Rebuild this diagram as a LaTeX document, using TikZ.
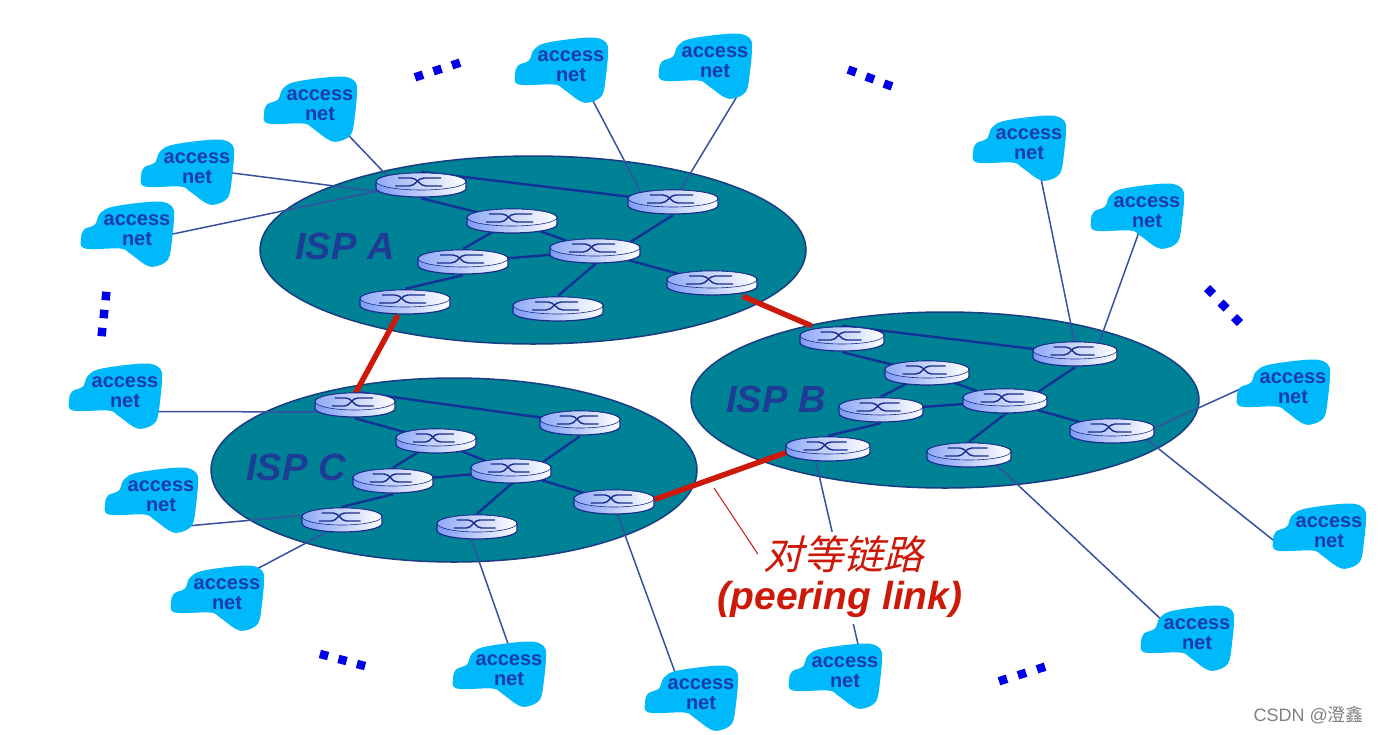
\documentclass[tikz,border=0pt]{standalone}
\usepackage{fontspec}
\setmainfont{Liberation Sans}
\newfontfamily\cjkfont{Noto Sans CJK SC}
\newfontfamily\cjkslant[FakeSlant=0.25]{Noto Sans CJK SC}
\usetikzlibrary{shapes.geometric,calc}

\definecolor{ispteal}{RGB}{0,130,150}
\definecolor{ispedge}{RGB}{25,60,130}
\definecolor{ispink}{RGB}{30,60,150}
\definecolor{cloudblue}{RGB}{0,185,250}
\definecolor{cloudink}{RGB}{25,60,170}
\definecolor{routerblue}{RGB}{125,155,245}
\definecolor{routeredge}{RGB}{25,45,140}
\definecolor{corelinkblue}{RGB}{20,50,150}
\definecolor{acclinkblue}{RGB}{55,80,160}
\definecolor{peerred}{RGB}{205,25,10}
\definecolor{dotblue}{RGB}{0,0,230}

\pgfdeclarelayer{ispfill}
\pgfdeclarelayer{links}
\pgfsetlayers{ispfill,links,main}

% access network: blob with its label
\newcommand{\accessnet}[2]{%
    \fill[cloudblue,shift={(#2)},yshift=-1.5pt] plot[smooth cycle,tension=0.6] coordinates {
        (-56,8) (-53,-1) (-42,-6) (-37,-17) (-23,-24) (20,-29) (35,-24) (37,-14)
        (35,9) (31,29) (18,36) (8,34) (-7,23) (-17,18) (-52,18)};
    \node[nettext,yshift=-1.5pt] (#1) at (#2) {access\\net};
}

\begin{document}
\begin{tikzpicture}[
        x=1pt,
        y=-1pt,
        isp/.style={
            ellipse,
            draw=ispedge,
            fill=ispteal,
            line width=1.5pt,
            inner sep=0pt
        },
        isplabel/.style={
            font=\fontsize{38}{38}\selectfont\bfseries\itshape,
            text=ispink,
            inner sep=0pt
        },
        nettext/.style={
            font=\fontsize{20}{20}\selectfont\bfseries,
            text=cloudink,
            align=center,
            inner sep=0pt
        },
        router/.style={
            rectangle,
            minimum width=#1+3,
            minimum height=26,
            inner sep=0pt,
            path picture={
                \begin{scope}[x=#1/90*1pt]
                    \shade[left color=routerblue,right color=white,draw=routeredge,line width=1.2pt]
                        (-45,3.5) .. controls (-45,8.2) and (-24.8,12) .. (0,12)
                        .. controls (24.8,12) and (45,8.2) .. (45,3.5)
                        -- (45,-3.5) .. controls (45,-8.2) and (24.8,-12) .. (0,-12)
                        .. controls (-24.8,-12) and (-45,-8.2) .. (-45,-3.5) -- cycle;
                    \shade[left color=routerblue!85!white,right color=white]
                        (0,-3.5) ellipse [x radius=44,y radius=8.5];
                    \draw[routeredge,line width=0.6pt] (0,-3.5) ellipse [x radius=45,y radius=8.5];
                    \draw[routeredge,line width=1.4pt]
                        (-23,-7) -- (-10,-7) .. controls (-3,-7) and (-2,1) .. (5,1) -- (21,1);
                    \draw[routeredge,line width=1.4pt]
                        (-26,1) -- (-12,1) .. controls (-5,1) and (-4,-7) .. (3,-7) -- (20,-7);
                \end{scope}
            }
        },
        corelink/.style={draw=corelinkblue,line width=2.4pt},
        acclink/.style={draw=acclinkblue,line width=1.5pt},
        peerlink/.style={draw=peerred,line width=5.5pt},
        peertext/.style={text=peerred,fill=white,inner sep=0pt},
        dotsq/.style={fill=dotblue,minimum size=8.5,inner sep=0pt}
    ]
    \useasboundingbox (0,0) rectangle (1379,734);

    % Providers
    \begin{pgfonlayer}{ispfill}
        \node[isp,minimum width=546,minimum height=188] (ispA) at (533,250) {};
        \node[isp,minimum width=508,minimum height=176] (ispB) at (945,400) {};
        \node[isp,minimum width=486,minimum height=184] (ispC) at (454,470) {};
    \end{pgfonlayer}
    \node[isplabel] (labA) at (345,246) {ISP A};
    \node[isplabel] (labB) at (776,399) {ISP B};
    \node[isplabel] (labC) at (296,467) {ISP C};

    % Routers
    \foreach \name/\xpos/\ypos in {a1/421/185,a2/512/221,a3/673/202,a4/595/251,
            a5/463/262,a6/712/283,a7/405/302,a8/558/309}
        \node[router=90] (\name) at (\xpos,\ypos) {};
    \foreach \name/\xpos/\ypos in {b1/842/339,b2/927/373,b3/1075/354,b4/1005/401,
            b5/881/410,b6/1112/431,b7/828/449,b8/969/455}
        \node[router=84] (\name) at (\xpos,\ypos) {};
    \foreach \name/\xpos/\ypos in {c1/355/405,c2/436/441,c3/580/423,c4/511/471,
            c5/393/481,c6/614/502,c7/342/520,c8/477/527}
        \node[router=80] (\name) at (\xpos,\ypos) {};

    % Access networks
    \accessnet{n1}{320,104}
    \accessnet{n2}{197,167}
    \accessnet{n3}{137,229}
    \accessnet{n4}{571,65}
    \accessnet{n5}{715,61}
    \accessnet{n6}{1029,143}
    \accessnet{n7}{1147,211}
    \accessnet{n8}{1293,387}
    \accessnet{n9}{1329,531}
    \accessnet{n10}{1197,633}
    \accessnet{n11}{845,671}
    \accessnet{n12}{701,693}
    \accessnet{n13}{509,669}
    \accessnet{n14}{227,593}
    \accessnet{n15}{161,495}
    \accessnet{n16}{125,391}

    % Peering label
    \node[peertext,minimum width=170,minimum height=44] (peerzh) at (843,554)
        {\fontsize{40}{40}\cjkslant 对等链路};
    \node[peertext,minimum height=50] (peeren) at (840,599)
        {\fontsize{39}{39}\selectfont\bfseries\itshape (peering link)};
    \coordinate (peertip) at (714,488);

    % Links, under the routers and blobs
    \begin{pgfonlayer}{links}
        \foreach \p in {a,b,c} {
            \draw[corelink] (\p1.north) -- (\p3.center);
            \draw[corelink] (\p1.south) -- (\p2.center);
            \draw[corelink] (\p2.center) -- (\p5.north);
            \draw[corelink] (\p2.center) -- (\p4.center);
            \draw[corelink] (\p3.south) -- (\p4.south);
            \draw[corelink] (\p4.center) -- (\p5.center);
            \draw[corelink] (\p4.center) -- (\p6.center);
            \draw[corelink] (\p4.south) -- (\p8.north);
            \draw[corelink] (\p5.south) -- (\p7.north);
        }
        \foreach \src/\sx/\sy/\dst/\tx/\ty in {n1/0/0/a1/-25/0,n2/0/0/a1/0/12,n3/0/11/a1/0/-3,
                n4/4/0/a3/-27/0,n5/31/19/a3/0/0,
                n6/5/0/b3/2/0,n7/-1/0/b3/20/0,n8/-23/-13/b6/18/8,n9/-44/17/b6/18/-5,
                n10/-7/12/b8/16/-1,n11/17/-11/b7/-15/0,
                n12/-19/-3/c6/-1/0,n13/7/-4/c8/-10/0,n14/8/-14/c7/0/4,
                n15/9/31/c7/0/-8,n16/10/19/c1/0/7}
            \draw[acclink] ($(\src)+(\sx,\sy)$) -- ($(\dst)+(\tx,\ty)$);
        \draw[peerlink] (a7) -- ($(c1)+(-6,0)$);
        \draw[peerlink] (a6) -- (b1);
        \draw[peerlink] ($(c6)+(25,3)$) -- ($(b7)+(-18,-5)$);
    \end{pgfonlayer}
    \draw[peerred,line width=1pt] (peertip) -- (peerzh.west);

    % Dots between the access networks
    \foreach \i/\xa/\ya/\xb/\yb/\ang in {1/419/76/456/64/18,2/852/71/888/85/-20,
            3/1210/291/1237/320/-45,4/106/296/102/332/85,
            5/324/655/361/665/-15,6/1003/680/1041/668/18}
        \foreach \j in {0,1,2}
            \node[dotsq,rotate=\ang] (dot\i-\j) at ($(\xa,\ya)!\j*0.5!(\xb,\yb)$) {};

    \node[text=black!50,inner sep=0pt,font=\fontsize{18}{18}\selectfont,anchor=east] (mark)
        at (1364,715) {CSDN @{\cjkfont 澄鑫}};
\end{tikzpicture}
\end{document}
